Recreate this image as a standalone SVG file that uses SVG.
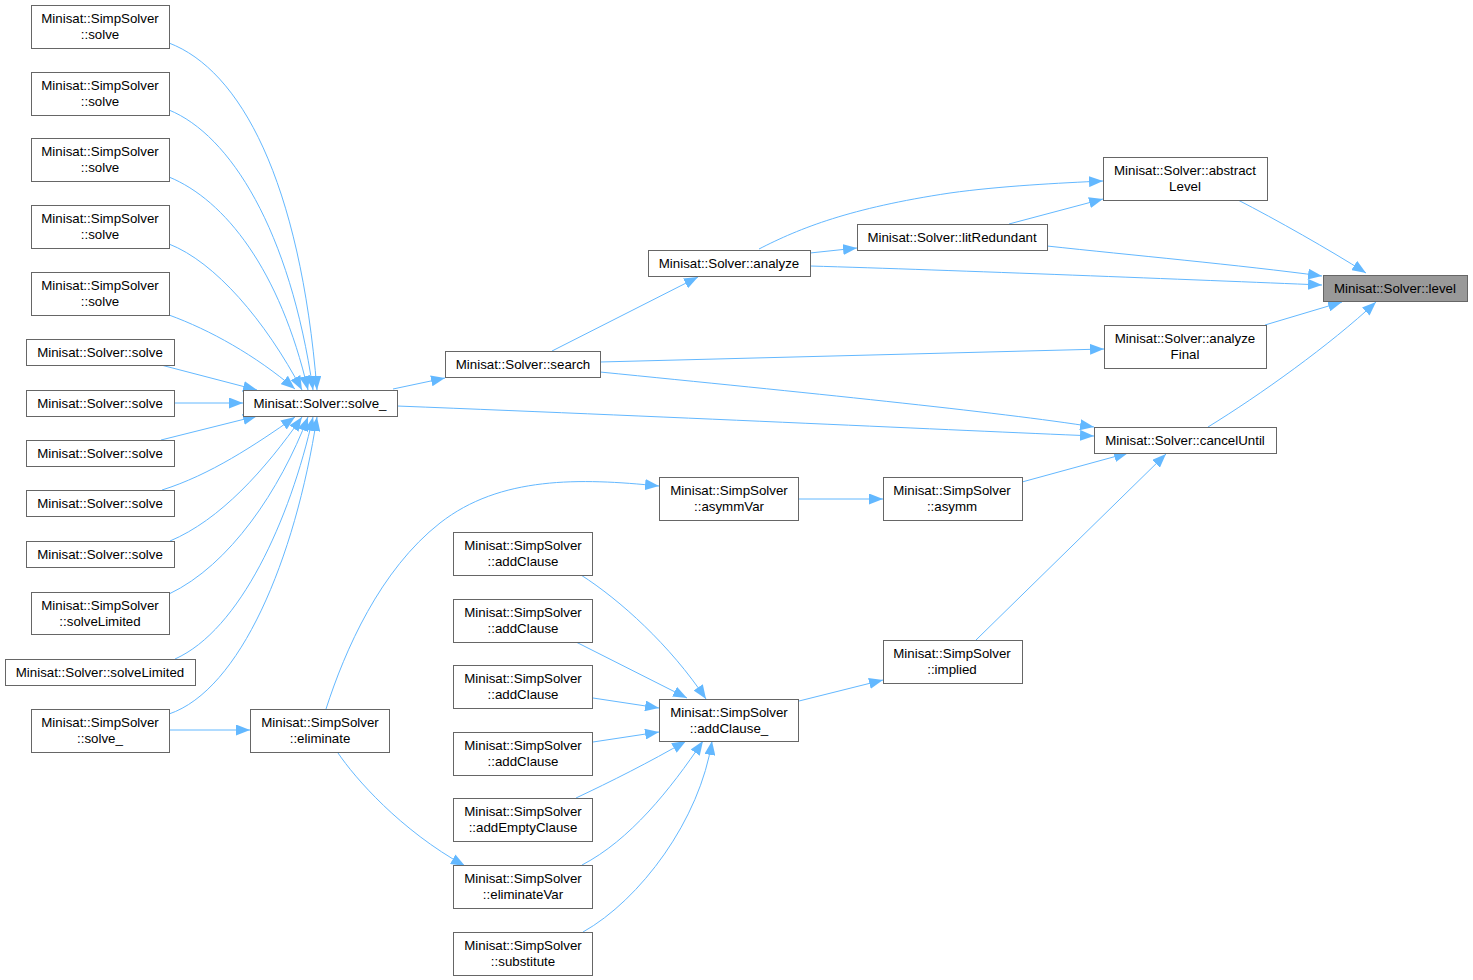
<svg xmlns="http://www.w3.org/2000/svg" width="1473" height="980" viewBox="0 0 1473 980">
<style>
.nb{fill:#ffffff;stroke:#666666;stroke-width:1}
.root{fill:#999999;stroke:#666666;stroke-width:1}
.t{font-family:"Liberation Sans",Arial,sans-serif;font-size:13.3px;fill:#000000;text-anchor:middle}
.e{fill:none;stroke:#63b8ff;stroke-width:1;marker-end:url(#ah)}
</style>
<defs>
<marker id="ah" markerUnits="userSpaceOnUse" viewBox="0 0 14 11" markerWidth="14" markerHeight="11" refX="14" refY="5.5" orient="auto">
<path d="M0,0 L14,5.5 L0,11 z" fill="#63b8ff"/>
</marker>
</defs>
<rect width="1473" height="980" fill="#ffffff"/>
<g id="edges">
<path class="e" d="M1238,200 C1275,219 1330,250 1366,273"/>
<path class="e" d="M1047,246 C1130,255 1240,265 1322,276"/>
<path class="e" d="M810,266 C950,270 1200,280 1322,285"/>
<path class="e" d="M810,253 L857,248"/>
<path class="e" d="M759,249 C800,228 850,208 950,193 C1000,186 1060,183 1103,181"/>
<path class="e" d="M1009,224 L1103,199"/>
<path class="e" d="M552,351 L698,277"/>
<path class="e" d="M600,362 L1104,349"/>
<path class="e" d="M600,372 C800,392 1000,412 1094,427"/>
<path class="e" d="M397,406 C700,418 950,430 1094,436"/>
<path class="e" d="M393,389 L445,378"/>
<path class="e" d="M1208,427 C1260,395 1330,345 1376,302"/>
<path class="e" d="M1265,325 L1342,302"/>
<path class="e" d="M1022,482 L1128,453"/>
<path class="e" d="M976,640 L1166,454"/>
<path class="e" d="M798,499 L883,499"/>
<path class="e" d="M326,709 C345,650 380,570 440,523 C500,476 580,478 659,486"/>
<path class="e" d="M799,701 L883,680"/>
<path class="e" d="M169,730 L250,730"/>
<path class="e" d="M338,753 C355,778 400,830 465,866"/>
<path class="e" d="M581,575 C620,600 670,645 706,699"/>
<path class="e" d="M576,642 L687,698"/>
<path class="e" d="M593,698 L659,708"/>
<path class="e" d="M593,742 L659,732"/>
<path class="e" d="M576,798 C610,782 650,762 686,741"/>
<path class="e" d="M582,865 C630,840 670,790 703,741"/>
<path class="e" d="M583,932 C640,900 700,820 712,741"/>
<path class="e" d="M169,43 C240,70 300,180 317,390"/>
<path class="e" d="M169,110 C230,135 290,230 313,390"/>
<path class="e" d="M169,177 C225,200 280,270 308,390"/>
<path class="e" d="M169,244 C215,262 265,320 302,390"/>
<path class="e" d="M169,315 C210,330 255,355 295,389"/>
<path class="e" d="M161,365 L257,390"/>
<path class="e" d="M174,403 L243,403"/>
<path class="e" d="M161,440 L257,416"/>
<path class="e" d="M162,490 C210,475 255,445 295,417"/>
<path class="e" d="M170,541 C220,520 265,470 302,417"/>
<path class="e" d="M169,594 C230,565 280,490 308,417"/>
<path class="e" d="M175,659 C240,630 290,520 313,417"/>
<path class="e" d="M169,714 C240,690 295,560 317,417"/>
</g>
<g id="n1"><rect class="nb" x="31.5" y="5.5" width="138" height="43"/><text class="t" x="100" y="23">Minisat::SimpSolver</text><text class="t" x="100" y="39">::solve</text></g>
<g id="n2"><rect class="nb" x="31.5" y="72.5" width="138" height="43"/><text class="t" x="100" y="90">Minisat::SimpSolver</text><text class="t" x="100" y="106">::solve</text></g>
<g id="n3"><rect class="nb" x="31.5" y="138.5" width="138" height="43"/><text class="t" x="100" y="156">Minisat::SimpSolver</text><text class="t" x="100" y="172">::solve</text></g>
<g id="n4"><rect class="nb" x="31.5" y="205.5" width="138" height="43"/><text class="t" x="100" y="223">Minisat::SimpSolver</text><text class="t" x="100" y="239">::solve</text></g>
<g id="n5"><rect class="nb" x="31.5" y="272.5" width="138" height="43"/><text class="t" x="100" y="290">Minisat::SimpSolver</text><text class="t" x="100" y="306">::solve</text></g>
<g id="n6"><rect class="nb" x="26.5" y="339.5" width="148" height="26"/><text class="t" x="100" y="357">Minisat::Solver::solve</text></g>
<g id="n7"><rect class="nb" x="26.5" y="390.5" width="148" height="26"/><text class="t" x="100" y="408">Minisat::Solver::solve</text></g>
<g id="n8"><rect class="nb" x="26.5" y="440.5" width="148" height="26"/><text class="t" x="100" y="458">Minisat::Solver::solve</text></g>
<g id="n9"><rect class="nb" x="26.5" y="490.5" width="148" height="26"/><text class="t" x="100" y="508">Minisat::Solver::solve</text></g>
<g id="n10"><rect class="nb" x="26.5" y="541.5" width="148" height="26"/><text class="t" x="100" y="559">Minisat::Solver::solve</text></g>
<g id="n11"><rect class="nb" x="31.5" y="592.5" width="138" height="42"/><text class="t" x="100" y="610">Minisat::SimpSolver</text><text class="t" x="100" y="626">::solveLimited</text></g>
<g id="n12"><rect class="nb" x="5.5" y="659.5" width="190" height="26"/><text class="t" x="100" y="677">Minisat::Solver::solveLimited</text></g>
<g id="n13"><rect class="nb" x="31.5" y="709.5" width="138" height="43"/><text class="t" x="100" y="727">Minisat::SimpSolver</text><text class="t" x="100" y="743">::solve_</text></g>
<g id="n14"><rect class="nb" x="243.5" y="390.5" width="154" height="26"/><text class="t" x="320" y="408">Minisat::Solver::solve_</text></g>
<g id="n15"><rect class="nb" x="250.5" y="709.5" width="139" height="43"/><text class="t" x="320" y="727">Minisat::SimpSolver</text><text class="t" x="320" y="743">::eliminate</text></g>
<g id="n16"><rect class="nb" x="445.5" y="351.5" width="155" height="26"/><text class="t" x="523" y="369">Minisat::Solver::search</text></g>
<g id="n17"><rect class="nb" x="648.5" y="250.5" width="162" height="26"/><text class="t" x="729" y="268">Minisat::Solver::analyze</text></g>
<g id="n18"><rect class="nb" x="857.5" y="224.5" width="190" height="26"/><text class="t" x="952" y="242">Minisat::Solver::litRedundant</text></g>
<g id="n19"><rect class="nb" x="1103.5" y="157.5" width="164" height="43"/><text class="t" x="1185" y="175">Minisat::Solver::abstract</text><text class="t" x="1185" y="191">Level</text></g>
<g id="n20"><rect class="root" x="1323.5" y="275.5" width="144" height="26"/><text class="t" x="1395" y="293">Minisat::Solver::level</text></g>
<g id="n21"><rect class="nb" x="1104.5" y="325.5" width="162" height="43"/><text class="t" x="1185" y="343">Minisat::Solver::analyze</text><text class="t" x="1185" y="359">Final</text></g>
<g id="n22"><rect class="nb" x="1094.5" y="427.5" width="182" height="26"/><text class="t" x="1185" y="445">Minisat::Solver::cancelUntil</text></g>
<g id="n23"><rect class="nb" x="659.5" y="477.5" width="139" height="43"/><text class="t" x="729" y="495">Minisat::SimpSolver</text><text class="t" x="729" y="511">::asymmVar</text></g>
<g id="n24"><rect class="nb" x="883.5" y="477.5" width="139" height="43"/><text class="t" x="952" y="495">Minisat::SimpSolver</text><text class="t" x="952" y="511">::asymm</text></g>
<g id="n25"><rect class="nb" x="883.5" y="640.5" width="139" height="43"/><text class="t" x="952" y="658">Minisat::SimpSolver</text><text class="t" x="952" y="674">::implied</text></g>
<g id="n26"><rect class="nb" x="659.5" y="699.5" width="139" height="42"/><text class="t" x="729" y="717">Minisat::SimpSolver</text><text class="t" x="729" y="733">::addClause_</text></g>
<g id="n27"><rect class="nb" x="453.5" y="532.5" width="139" height="43"/><text class="t" x="523" y="550">Minisat::SimpSolver</text><text class="t" x="523" y="566">::addClause</text></g>
<g id="n28"><rect class="nb" x="453.5" y="599.5" width="139" height="43"/><text class="t" x="523" y="617">Minisat::SimpSolver</text><text class="t" x="523" y="633">::addClause</text></g>
<g id="n29"><rect class="nb" x="453.5" y="665.5" width="139" height="43"/><text class="t" x="523" y="683">Minisat::SimpSolver</text><text class="t" x="523" y="699">::addClause</text></g>
<g id="n30"><rect class="nb" x="453.5" y="732.5" width="139" height="43"/><text class="t" x="523" y="750">Minisat::SimpSolver</text><text class="t" x="523" y="766">::addClause</text></g>
<g id="n31"><rect class="nb" x="453.5" y="798.5" width="139" height="43"/><text class="t" x="523" y="816">Minisat::SimpSolver</text><text class="t" x="523" y="832">::addEmptyClause</text></g>
<g id="n32"><rect class="nb" x="453.5" y="865.5" width="139" height="43"/><text class="t" x="523" y="883">Minisat::SimpSolver</text><text class="t" x="523" y="899">::eliminateVar</text></g>
<g id="n33"><rect class="nb" x="453.5" y="932.5" width="139" height="43"/><text class="t" x="523" y="950">Minisat::SimpSolver</text><text class="t" x="523" y="966">::substitute</text></g>
</svg>
